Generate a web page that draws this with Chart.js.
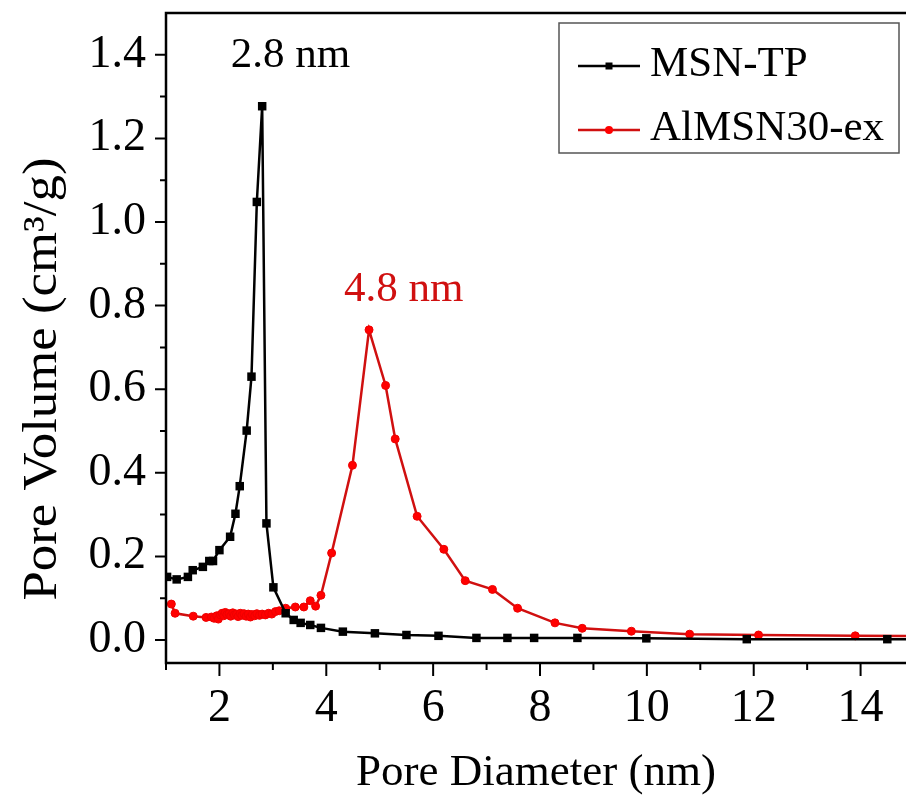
<!DOCTYPE html>
<html>
<head>
<meta charset="utf-8">
<title>Pore size distribution</title>
<script src="https://cdn.jsdelivr.net/npm/chart.js@4.4.1/dist/chart.umd.min.js"></script>
<style>
  html, body { margin: 0; padding: 0; background: #fff; }
  #wrap { width: 912px; height: 796px; position: relative; }
</style>
</head>
<body>
<div id="wrap"><canvas id="psd"></canvas></div>
<script>
// series names
const seriesNames = ['MSN-TP', 'AlMSN30-ex'];

// MSN-TP : pore diameter (nm) / pore volume (cm3/g)
const msnDiameter = [1.02, 1.20, 1.41, 1.50, 1.69, 1.81, 1.88, 2.00, 2.20, 2.30, 2.38, 2.51, 2.60, 2.70, 2.80,
  2.88, 3.01, 3.24, 3.39, 3.52, 3.70, 3.90, 4.31, 4.91, 5.50, 6.10, 6.81, 7.39, 7.89, 8.70, 9.99, 11.87, 14.50, 15.50];
const msnVolume = [0.151, 0.145, 0.151, 0.167, 0.175, 0.189, 0.189, 0.215, 0.247, 0.302, 0.368, 0.501, 0.630, 1.048, 1.277,
  0.279, 0.126, 0.064, 0.048, 0.041, 0.036, 0.029, 0.020, 0.016, 0.012, 0.010, 0.005, 0.005, 0.005, 0.005, 0.004, 0.002, 0.002, 0.002];

// AlMSN30-ex
const alDiameter = [1.10, 1.17, 1.51, 1.75, 1.85, 1.90, 1.95, 1.98, 2.02, 2.05, 2.08, 2.11, 2.14, 2.18, 2.21, 2.25,
  2.28, 2.32, 2.35, 2.39, 2.42, 2.46, 2.50, 2.54, 2.58, 2.62, 2.66, 2.70, 2.75, 2.80, 2.86, 2.92, 2.98, 3.05,
  3.12, 3.24, 3.42, 3.58, 3.70, 3.80, 3.90, 4.10, 4.49, 4.80, 5.11, 5.29, 5.70, 6.20, 6.60, 7.11, 7.58, 8.28,
  8.79, 9.71, 10.80, 12.09, 13.90, 15.50];
const alVolume = [0.086, 0.064, 0.057, 0.054, 0.055, 0.052, 0.058, 0.050, 0.060, 0.064, 0.058, 0.066, 0.061, 0.063, 0.057, 0.065,
  0.060, 0.062, 0.056, 0.064, 0.059, 0.063, 0.057, 0.062, 0.055, 0.061, 0.058, 0.063, 0.059, 0.062, 0.060, 0.064, 0.062, 0.068,
  0.070, 0.076, 0.079, 0.079, 0.094, 0.081, 0.107, 0.208, 0.418, 0.742, 0.609, 0.481, 0.296, 0.217, 0.142, 0.121, 0.076, 0.041,
  0.028, 0.021, 0.014, 0.012, 0.010, 0.009];

// axis ticks
const xTicks = [2, 4, 6, 8, 10, 12, 14];
const yTicks = [0, 0.2, 0.4, 0.6, 0.8, 1.0, 1.2, 1.4];

// peak annotations: text, x, y (baseline)
const peakText = ['2.8 nm', '4.8 nm'];
const peakX = [3.33, 5.45];
const peakY = [1.37, 0.81];

const serif = '"Liberation Serif", "Times New Roman", serif';
const colors = ['#000000', '#d01010'];

function toPoints(xs, ys) {
  return xs.map((v, i) => ({ x: v, y: ys[i] }));
}

// box frame + outward major/minor ticks
const frameTicks = {
  id: 'frameTicks',
  afterDraw(chart) {
    const { ctx, chartArea: a } = chart;
    const x = chart.scales.x, y = chart.scales.y;
    ctx.save();
    ctx.strokeStyle = '#000';
    ctx.lineWidth = 2.5;
    ctx.beginPath();
    ctx.moveTo(a.right, a.top);
    ctx.lineTo(a.left, a.top);
    ctx.lineTo(a.left, a.bottom);
    ctx.lineTo(a.right, a.bottom);
    ctx.stroke();

    ctx.lineWidth = 2;
    ctx.beginPath();
    for (let i = 1; i <= 14; i++) {
      const px = x.getPixelForValue(i);
      const len = i % 2 === 0 ? 13 : 7;
      ctx.moveTo(px, a.bottom);
      ctx.lineTo(px, a.bottom + len);
    }
    for (let i = 0; i <= 14; i++) {
      const py = y.getPixelForValue(i / 10);
      const len = i % 2 === 0 ? 11 : 6;
      ctx.moveTo(a.left, py);
      ctx.lineTo(a.left - len, py);
    }
    ctx.stroke();
    ctx.restore();
  }
};

// y title, peak labels and boxed legend
const extras = {
  id: 'extras',
  afterDraw(chart) {
    const { ctx } = chart;
    const x = chart.scales.x, y = chart.scales.y;
    ctx.save();

    ctx.fillStyle = '#000';
    ctx.font = '48px ' + serif;
    ctx.textAlign = 'center';
    ctx.textBaseline = 'middle';
    ctx.translate(43, 379);
    ctx.rotate(-Math.PI / 2);
    ctx.scale(1.1, 1);
    ctx.fillText('Pore Volume (cm³/g)', 0, 0);
    ctx.setTransform(1, 0, 0, 1, 0, 0);

    ctx.font = '43px ' + serif;
    ctx.textBaseline = 'alphabetic';
    peakText.forEach((t, i) => {
      ctx.fillStyle = colors[i];
      ctx.fillText(t, x.getPixelForValue(peakX[i]), y.getPixelForValue(peakY[i]));
    });

    // legend
    ctx.strokeStyle = '#555';
    ctx.lineWidth = 1.5;
    ctx.fillStyle = '#fff';
    ctx.fillRect(559, 23, 340, 130);
    ctx.strokeRect(559, 23, 340, 130);
    ctx.textAlign = 'left';
    ctx.font = '43px ' + serif;
    const rows = [66, 130];
    chart.data.datasets.forEach((ds, i) => {
      const ly = rows[i];
      ctx.strokeStyle = colors[i];
      ctx.lineWidth = 2.5;
      ctx.beginPath();
      ctx.moveTo(578, ly);
      ctx.lineTo(640, ly);
      ctx.stroke();
      ctx.fillStyle = ds.pointBackgroundColor;
      ctx.beginPath();
      if (i === 0) ctx.rect(605.5, ly - 3.5, 7, 7);
      else ctx.arc(609, ly, 4, 0, Math.PI * 2);
      ctx.fill();
      ctx.fillStyle = '#000';
      ctx.fillText(ds.label, 650, ly + 10);
    });
    ctx.restore();
  }
};

new Chart(document.getElementById('psd'), {
  type: 'line',
  data: {
    datasets: [{
      label: seriesNames[0],
      data: toPoints(msnDiameter, msnVolume),
      borderColor: colors[0],
      borderWidth: 2.5,
      pointStyle: 'rect',
      pointRadius: 6,
      pointBackgroundColor: '#000000',
      pointBorderColor: '#000000',
      pointBorderWidth: 0,
      tension: 0
    }, {
      label: seriesNames[1],
      data: toPoints(alDiameter, alVolume),
      borderColor: colors[1],
      borderWidth: 2.5,
      pointStyle: 'circle',
      pointRadius: 4,
      pointBackgroundColor: '#ff0000',
      pointBorderColor: '#ee0000',
      pointBorderWidth: 1,
      tension: 0
    }]
  },
  options: {
    responsive: true,
    maintainAspectRatio: false,
    animation: false,
    layout: { padding: { top: 13, right: 0, left: 0, bottom: 0 } },
    plugins: {
      legend: { display: false },
      tooltip: { enabled: false }
    },
    scales: {
      x: {
        type: 'linear',
        min: 1,
        max: 14.85,
        grid: { display: false, drawTicks: false },
        border: { display: false },
        afterBuildTicks: axis => { axis.ticks = xTicks.map(v => ({ value: v })); },
        afterFit: axis => {
          axis.height = 133;
          axis.paddingLeft = 0;
          axis.paddingRight = 0;
        },
        ticks: {
          color: '#000',
          padding: 18,
          maxRotation: 0,
          font: { family: serif, size: 46 }
        },
        title: {
          display: true,
          text: 'Pore Diameter (nm)',
          color: '#000',
          padding: { top: 0, bottom: 0 },
          font: { family: serif, size: 45, lineHeight: 1 }
        }
      },
      y: {
        min: -0.055,
        max: 1.5,
        grid: { display: false, drawTicks: false },
        border: { display: false },
        afterBuildTicks: axis => { axis.ticks = yTicks.map(v => ({ value: v })); },
        afterFit: axis => {
          axis.width = 166;
          axis.paddingTop = 0;
          axis.paddingBottom = 0;
        },
        ticks: {
          color: '#000',
          padding: 20,
          font: { family: serif, size: 46 },
          callback: v => v.toFixed(1)
        }
      }
    }
  },
  plugins: [frameTicks, extras]
});
</script>
</body>
</html>
